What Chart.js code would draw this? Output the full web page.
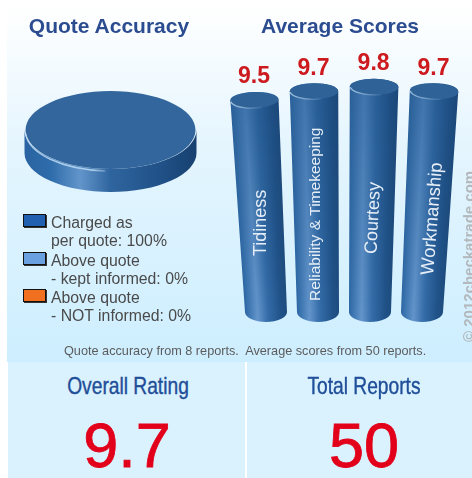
<!DOCTYPE html>
<html>
<head>
<meta charset="utf-8">
<title>Quote Accuracy and Average Scores</title>
<script src="https://cdn.jsdelivr.net/npm/chart.js@4"></script>
<style>
html, body { margin: 0; padding: 0; background: #fff; }
#page { position: relative; width: 472px; height: 478px; overflow: hidden; font-family: "Liberation Sans", Arial, sans-serif; }
#top { position: absolute; left: 7px; top: 6px; width: 465px; height: 356px; background: linear-gradient(#ffffff 0%, #e4f5fe 40%, #cdeeff 100%); }
#soft { position: absolute; left: 0; top: 0; width: 472px; height: 362px; filter: blur(0.45px); }
.title { position: absolute; top: 14px; font-size: 21px; font-weight: bold; color: #2b4c90; white-space: nowrap; transform: translateX(-50%); }
canvas { position: absolute; }
.swatch { position: absolute; left: 23px; width: 21px; height: 11px; border: 1.5px solid #111; box-shadow: 1px 1px 0 #333; }
.legtext { position: absolute; left: 51px; font-size: 15.8px; line-height: 18px; color: #4a4a4a; white-space: nowrap; }
#foot { position: absolute; left: 64px; top: 344px; font-size: 12.7px; color: #5c5c5c; white-space: pre; }
#copy { position: absolute; left: 460px; top: 342px; font-size: 15px; font-weight: bold; color: #b3b8bc; white-space: nowrap; transform-origin: 0 0; transform: rotate(-90deg); }
.panel { position: absolute; top: 362px; height: 116px; background: #daf1fe; }
.ptitle { position: absolute; top: 371.5px; font-size: 24px; color: #1f4e98; -webkit-text-stroke: 0.4px #1f4e98; white-space: nowrap; transform: translateX(-50%) scaleX(0.8); }
.pvalue { position: absolute; top: 409px; font-size: 63px; line-height: 72px; color: #e2001a; -webkit-text-stroke: 0.8px #e2001a; white-space: nowrap; transform: translateX(-50%); }
</style>
</head>
<body>
<div id="page">
  <div id="top"></div>
  <div id="soft">
    <div class="title" style="left:109px">Quote Accuracy</div>
    <div class="title" style="left:340px">Average Scores</div>
    <canvas id="pie" width="191" height="190" style="left:15px;top:35px;width:191px;height:190px"></canvas>
    <canvas id="bars" width="252" height="300" style="left:220px;top:40px;width:252px;height:300px"></canvas>
    <div id="legend"></div>
    <div id="foot"></div>
    <div id="copy"></div>
  </div>
  <div class="panel" style="left:8px;width:237px"></div>
  <div class="panel" style="left:247px;width:225px"></div>
  <div class="ptitle" style="left:128px" id="t1"></div>
  <div class="ptitle" style="left:364px" id="t2"></div>
  <div class="pvalue" style="left:127px" id="v1"></div>
  <div class="pvalue" style="left:364px" id="v2"></div>
</div>
<script>
// quote accuracy
var quoteLabels = ["Charged as\nper quote: 100%", "Above quote\n- kept informed: 0%", "Above quote\n- NOT informed: 0%"];
var quoteValues = [100, 0, 0];
var quoteColors = ["#33669c", "#6a9fe0", "#f07020"];
var swatchColors = ["#2160b0", "#6a9fe0", "#f07020"];

// average scores
var scoreLabels = ["Tidiness", "Reliability & Timekeeping", "Courtesy", "Workmanship"];
var scoreValues = [9.5, 9.7, 9.8, 9.7];
var scoreFloor = 4.7;
var scoreCeil = 10;

var footText = "Quote accuracy from 8 reports.  Average scores from 50 reports.";
var copyText = "\u00A9 2012checkatrade.com";
var summaryLabels = ["Overall Rating", "Total Reports"];
var summaryValues = ["9.7", "50"];

document.getElementById("foot").textContent = footText;
document.getElementById("copy").textContent = copyText;
document.getElementById("t1").textContent = summaryLabels[0];
document.getElementById("t2").textContent = summaryLabels[1];
document.getElementById("v1").textContent = summaryValues[0];
document.getElementById("v2").textContent = summaryValues[1];

// legend, swatch rows are 37.5px apart
var legend = document.getElementById("legend");
for (var i = 0; i < quoteLabels.length; i++) {
    var rowTop = 214 + i * 37.7;
    var sw = document.createElement("div");
    sw.className = "swatch";
    sw.style.top = rowTop + "px";
    sw.style.background = swatchColors[i];
    legend.appendChild(sw);
    var tx = document.createElement("div");
    tx.className = "legtext";
    tx.style.top = rowTop + "px";
    tx.innerHTML = quoteLabels[i].replace("\n", "<br>");
    legend.appendChild(tx);
}

function mix(a, b, t)
{
    var out = [];
    for (var i = 0; i < 3; i++) {
        out.push(Math.round(a[i] + (b[i] - a[i]) * t));
    }
    return "rgb(" + out.join(",") + ")";
}

// squashes the pie into a disc and puts the rim under it
var PIE_SQUASH = 0.459;
var PIE_DEPTH = 23;
var discPlugin = {
    id: "disc",
    beforeDatasetsDraw: function (chart)
    {
        var arc = chart.getDatasetMeta(0).data[0];
        var ctx = chart.ctx;
        var r = arc.outerRadius;
        var ry = r * PIE_SQUASH;
        var g = ctx.createLinearGradient(arc.x - r, 0, arc.x + r, 0);
        g.addColorStop(0, "#2a64a2");
        g.addColorStop(0.15, "#2f6cab");
        g.addColorStop(0.32, "#6295ca");
        g.addColorStop(0.5, "#2f659f");
        g.addColorStop(0.82, "#1f4f85");
        g.addColorStop(1, "#174170");
        ctx.save();
        ctx.beginPath();
        ctx.ellipse(arc.x, arc.y, r + 1, ry, 0, Math.PI, 0, true);
        ctx.lineTo(arc.x + r + 1, arc.y + PIE_DEPTH);
        ctx.ellipse(arc.x, arc.y + PIE_DEPTH, r + 1, ry, 0, 0, Math.PI, false);
        ctx.closePath();
        ctx.fillStyle = g;
        ctx.fill();
        ctx.restore();
        ctx.save();
        ctx.translate(arc.x, arc.y);
        ctx.scale(1, PIE_SQUASH);
        ctx.translate(-arc.x, -arc.y);
    },
    afterDatasetsDraw: function (chart)
    {
        var arc = chart.getDatasetMeta(0).data[0];
        var ctx = chart.ctx;
        var r = arc.outerRadius;
        ctx.restore();
        // light edge round the lower left of the face
        var g = ctx.createLinearGradient(arc.x - r, 0, arc.x + 5, 0);
        g.addColorStop(0, "rgba(190,220,245,0.85)");
        g.addColorStop(0.75, "rgba(190,220,245,0.8)");
        g.addColorStop(1, "rgba(190,220,245,0)");
        ctx.save();
        ctx.beginPath();
        ctx.ellipse(arc.x, arc.y + 1, r, r * PIE_SQUASH + 1, 0, Math.PI * 0.52, Math.PI * 0.98, false);
        ctx.strokeStyle = g;
        ctx.lineWidth = 1.6;
        ctx.stroke();
        ctx.restore();
    }
};

new Chart(document.getElementById("pie"), {
    type: "pie",
    data: {
        labels: quoteLabels,
        datasets: [{ data: quoteValues, backgroundColor: quoteColors, borderWidth: 0 }]
    },
    options: {
        responsive: false,
        animation: false,
        layout: { padding: 10 },
        plugins: { legend: { display: false }, tooltip: { enabled: false } }
    },
    plugins: [discPlugin]
});

// bars lean apart towards the top, the camera is above and in front of them
var LEAN = 0.155 / 222;
var TOP_RY = 8;
var BASE_RY = 10;
var cylinderPlugin = {
    id: "cylinder",
    afterDatasetsDraw: function (chart)
    {
        var ctx = chart.ctx;
        var bars = chart.getDatasetMeta(0).data;
        var mid = (chart.chartArea.left + chart.chartArea.right) / 2;
        for (var i = 0; i < bars.length; i++) {
            drawCylinder(ctx, bars[i], mid, i);
        }
    }
};

function drawCylinder(ctx, bar, mid, index)
{
    var half = bar.width / 2;
    var yTop = bar.y;
    var yBase = bar.base;
    function kAt(y) { return 1 + LEAN * (yBase - y); }
    function xAt(y) { return mid + (bar.x - mid) * kAt(y); }
    var topX = xAt(yTop);
    var topHalf = half * kAt(yTop);
    var tilt = (bar.x - mid) / 78 * 0.04;

    ctx.save();
    ctx.beginPath();
    ctx.moveTo(topX - topHalf, yTop);
    ctx.lineTo(bar.x - half, yBase);
    ctx.ellipse(bar.x, yBase, half, BASE_RY, 0, Math.PI, 0, true);
    ctx.lineTo(topX + topHalf, yTop);
    ctx.ellipse(topX, yTop, topHalf, TOP_RY, 0, 0, Math.PI, true);
    ctx.closePath();
    ctx.clip();
    for (var y = Math.floor(yTop - TOP_RY); y < yBase + BASE_RY; y++) {
        var yy = Math.min(y, yBase);
        var c = xAt(yy);
        var h = half * kAt(yy);
        var t = Math.max(0, (y - yTop) / (yBase - yTop));
        var g = ctx.createLinearGradient(c - h, 0, c + h, 0);
        g.addColorStop(0, mix([42, 96, 152], [44, 103, 164], t));
        g.addColorStop(0.3, mix([64, 116, 172], [98, 148, 202], t));
        g.addColorStop(0.55, mix([40, 94, 150], [52, 108, 168], t));
        g.addColorStop(0.85, mix([30, 78, 130], [32, 82, 136], t));
        g.addColorStop(1, mix([28, 72, 122], [30, 76, 126], t));
        ctx.fillStyle = g;
        ctx.fillRect(c - h - 2, y, h * 2 + 4, 1);
    }
    ctx.restore();

    // cap
    ctx.beginPath();
    ctx.ellipse(topX, yTop, topHalf, TOP_RY, tilt, 0, Math.PI * 2);
    ctx.fillStyle = "#2f6297";
    ctx.fill();
    var rim = ctx.createLinearGradient(topX - topHalf, 0, topX + topHalf * 0.5, 0);
    rim.addColorStop(0, "rgba(190,220,245,0.8)");
    rim.addColorStop(1, "rgba(190,220,245,0)");
    ctx.beginPath();
    ctx.ellipse(topX, yTop, topHalf - 0.5, TOP_RY, tilt, Math.PI * 0.4, Math.PI * 0.98);
    ctx.strokeStyle = rim;
    ctx.lineWidth = 1.3;
    ctx.stroke();

    // value above the bar
    ctx.fillStyle = "#cc1a1f";
    ctx.font = "bold 23px 'Liberation Sans', Arial, sans-serif";
    ctx.textAlign = "center";
    ctx.textBaseline = "middle";
    ctx.fillText(scoreValues[index].toFixed(1), topX - 0.5, yTop - 23);

    // name up the bar, following its lean
    var labelBottom = [216, 261, 214, 235];
    var labelX = [41, 96, 151.5, 208];
    var labelLean = [0.0, 0.0, 0.05, 0.08];
    var labelSize = [18, 15.5, 18, 18.5];
    ctx.save();
    ctx.translate(labelX[index], labelBottom[index]);
    ctx.rotate(-Math.PI / 2 + labelLean[index]);
    ctx.fillStyle = "#e6eef7";
    ctx.font = labelSize[index] + "px 'Liberation Sans', Arial, sans-serif";
    ctx.textAlign = "left";
    ctx.textBaseline = "middle";
    ctx.fillText(scoreLabels[index], 0, 0);
    ctx.restore();
}

new Chart(document.getElementById("bars"), {
    type: "bar",
    data: {
        labels: scoreLabels,
        datasets: [{
            data: scoreValues,
            base: scoreFloor,
            backgroundColor: "rgba(0,0,0,0)",
            borderWidth: 0,
            categoryPercentage: 1,
            barPercentage: 0.808
        }]
    },
    options: {
        responsive: false,
        animation: false,
        layout: { padding: { left: 20, right: 24, top: 38, bottom: 28 } },
        scales: {
            x: { display: false },
            y: { display: false, min: scoreFloor, max: scoreCeil }
        },
        plugins: { legend: { display: false }, tooltip: { enabled: false } }
    },
    plugins: [cylinderPlugin]
});
</script>
</body>
</html>
